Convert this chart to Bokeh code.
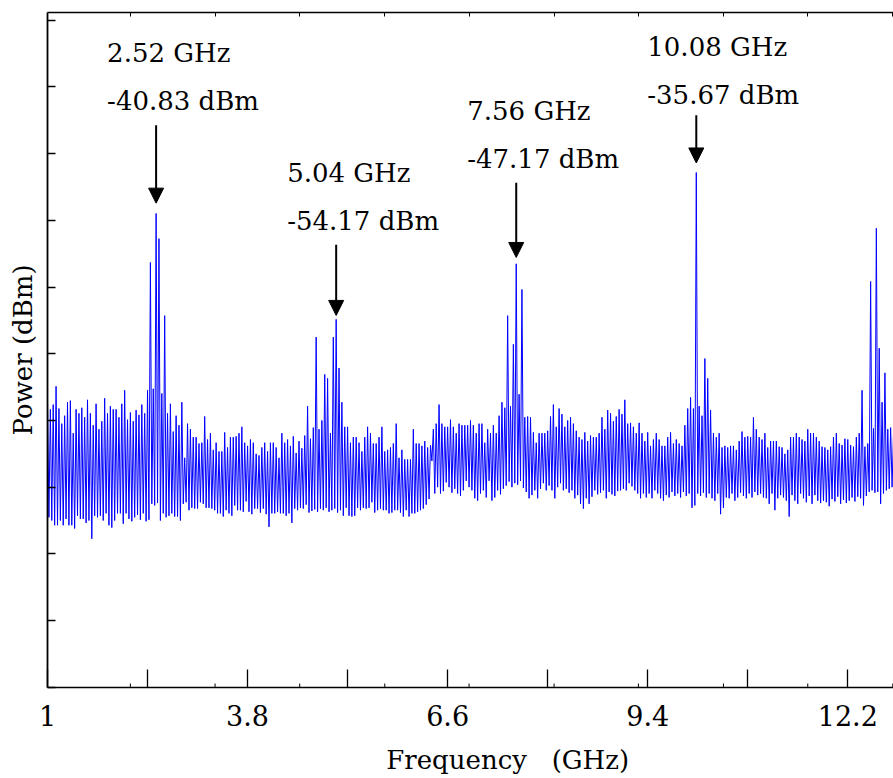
import numpy as np
from bokeh.plotting import figure
from bokeh.models import Range1d, FixedTicker, LinearAxis, Arrow, NormalHead, Label
from bokeh.embed import file_html
from bokeh.resources import INLINE

# Spectrum analyser trace: one reading every 20 MHz starting at 1.00 GHz
F_START_GHZ = 1.0
F_STEP_GHZ = 0.02

# 1.00 - 3.38 GHz
power_band1_dbm = [
    -64.4, -79.1, -65.5, -79.5, -64.9, -80.1, -62.6, -80.1, -65.4, -79.5, -67.3, -80.1, -66.3, -79.3, -64.6, -80.1, -64.4, -80.1, -68.5, -80.5,
    -65.5, -78.9, -66.0, -79.3, -65.3, -79.3, -66.5, -79.8, -64.3, -79.5, -66.0, -81.8, -67.5, -78.9, -64.8, -79.1, -68.0, -78.9, -67.0, -79.5,
    -64.1, -78.6, -66.0, -80.1, -65.1, -80.4, -65.5, -79.5, -65.5, -78.6, -66.5, -78.6, -64.8, -79.9, -63.1, -78.6, -66.8, -79.3, -65.9, -79.6,
    -67.0, -79.1, -65.6, -78.8, -66.2, -79.4, -64.9, -78.6, -66.0, -79.6, -63.1, -79.4, -47.0, -77.4, -62.9, -77.6, -40.83, -77.3, -44.0, -79.5,
    -63.5, -78.6, -53.7, -79.1, -66.0, -78.9, -64.8, -78.6, -68.3, -79.0, -66.3, -79.0, -67.5, -79.5, -64.6, -77.4, -71.6, -77.2, -67.3, -78.2,
    -68.0, -77.9, -69.0, -78.0, -69.0, -78.0, -69.8, -77.2, -69.7, -77.4, -66.4, -77.9, -69.3, -77.9, -68.5, -78.0, -70.6, -78.2, -69.7, -78.6,
]
# 3.40 - 5.78 GHz
power_band2_dbm = [
    -70.8, -78.6, -70.8, -79.0, -68.4, -78.2, -70.3, -78.6, -69.0, -78.9, -69.0, -77.6, -68.9, -78.2, -68.5, -78.2, -67.7, -78.4, -69.7, -77.1,
    -70.1, -78.4, -69.3, -78.7, -69.7, -78.0, -71.1, -78.0, -71.3, -78.5, -70.3, -78.0, -69.7, -78.7, -70.8, -80.3, -69.7, -78.6, -69.7, -78.6,
    -70.3, -78.4, -71.6, -78.6, -68.5, -78.6, -69.7, -78.9, -69.3, -78.6, -70.1, -79.8, -68.9, -78.0, -71.0, -78.2, -69.5, -77.9, -70.4, -78.0,
    -68.8, -77.5, -65.1, -78.5, -69.2, -78.3, -67.8, -78.1, -56.4, -78.4, -68.0, -78.0, -66.9, -78.2, -61.1, -77.9, -61.6, -78.4, -68.5, -78.2,
    -56.4, -78.0, -54.17, -78.5, -60.3, -78.2, -64.6, -78.9, -67.7, -77.9, -67.7, -78.9, -69.7, -79.0, -69.0, -78.9, -69.0, -77.9, -69.7, -78.2,
    -70.8, -77.9, -69.0, -78.0, -67.7, -77.9, -68.5, -77.2, -69.8, -78.5, -69.8, -78.2, -69.0, -78.0, -67.7, -78.2, -70.8, -78.2, -70.6, -78.6,
]
# 5.80 - 8.18 GHz
power_band3_dbm = [
    -70.3, -78.5, -69.8, -78.2, -67.3, -78.2, -71.6, -78.5, -70.6, -79.0, -71.8, -78.2, -71.8, -79.0, -71.8, -78.6, -68.0, -78.6, -69.8, -78.4,
    -69.8, -78.2, -70.1, -78.0, -69.5, -77.5, -70.3, -76.8, -70.0, -72.0, -68.0, -76.1, -67.3, -75.3, -64.9, -76.1, -67.3, -75.8, -67.7, -74.7,
    -67.7, -75.3, -66.8, -76.0, -67.7, -75.5, -68.5, -76.1, -67.3, -76.4, -67.5, -75.7, -67.5, -74.5, -67.5, -75.3, -66.9, -75.7, -67.5, -76.7,
    -68.5, -77.0, -67.3, -76.1, -67.3, -75.7, -69.7, -76.6, -68.0, -74.5, -68.5, -77.0, -67.5, -76.6, -68.5, -75.7, -66.3, -76.2, -64.6, -75.5,
    -65.3, -75.1, -53.7, -74.6, -65.1, -75.3, -57.3, -74.8, -47.17, -75.0, -63.6, -74.5, -50.4, -75.4, -66.5, -75.9, -66.4, -76.7, -66.5, -76.3,
    -68.4, -75.7, -69.7, -76.7, -68.5, -75.5, -68.5, -74.8, -68.5, -75.7, -68.2, -75.1, -66.4, -75.7, -64.9, -76.7, -67.7, -75.3, -65.4, -74.8,
]
# 8.20 - 10.58 GHz
power_band4_dbm = [
    -66.1, -75.7, -67.7, -75.5, -66.9, -76.0, -66.5, -75.7, -67.3, -76.7, -68.2, -76.3, -69.0, -77.4, -69.3, -78.0, -68.4, -76.7, -69.5, -77.4,
    -68.8, -76.5, -69.0, -75.7, -69.0, -76.2, -68.5, -76.0, -66.5, -75.7, -68.0, -76.7, -65.6, -75.9, -66.0, -76.2, -67.0, -76.4, -66.4, -75.8,
    -65.5, -75.7, -66.1, -75.5, -64.3, -75.7, -67.3, -74.8, -67.2, -75.2, -67.7, -75.7, -68.5, -76.1, -67.2, -76.7, -68.5, -76.1, -69.5, -76.6,
    -68.4, -76.1, -70.1, -76.7, -69.3, -75.7, -68.5, -76.1, -69.3, -76.7, -70.1, -77.0, -70.1, -76.3, -69.0, -76.6, -68.4, -75.9, -69.8, -76.4,
    -69.3, -76.1, -69.8, -76.6, -70.1, -75.9, -67.5, -76.4, -65.4, -76.1, -64.0, -77.9, -65.4, -77.6, -35.67, -76.1, -65.1, -76.4, -66.3, -76.0,
    -59.1, -76.6, -61.6, -76.1, -65.6, -76.7, -68.5, -77.0, -69.0, -76.1, -68.5, -78.7, -70.3, -77.9, -70.1, -76.6, -70.3, -76.7, -70.1, -76.1,
]
# 10.60 - 12.84 GHz
power_band5_dbm = [
    -70.1, -77.0, -70.6, -76.6, -69.5, -76.0, -68.3, -76.4, -69.0, -76.7, -68.9, -76.1, -69.0, -76.6, -66.5, -75.9, -68.0, -76.3, -69.0, -76.1,
    -69.3, -76.6, -68.5, -76.7, -70.3, -77.4, -69.5, -76.1, -69.5, -78.2, -69.5, -76.7, -70.2, -76.3, -70.3, -76.6, -71.1, -77.0, -70.6, -79.0,
    -69.0, -76.3, -69.0, -77.0, -68.5, -77.4, -69.0, -76.1, -69.3, -76.7, -69.5, -77.2, -68.0, -76.4, -68.5, -77.4, -68.5, -76.3, -69.0, -77.0,
    -69.5, -77.3, -70.2, -77.0, -70.3, -77.2, -70.6, -77.7, -70.2, -76.8, -69.0, -77.1, -68.5, -76.5, -69.8, -77.4, -70.0, -76.9, -69.2, -77.3,
    -69.3, -77.0, -70.0, -76.6, -70.2, -77.1, -69.0, -76.5, -68.5, -76.7, -63.1, -77.6, -70.2, -76.4, -69.8, -75.9, -49.4, -75.7, -67.9, -76.0,
    -42.7, -75.9, -57.8, -77.4, -64.6, -76.1, -60.9, -75.7, -68.0, -75.5, -67.8, -75.3, -68.5,
]

# Marked harmonics
marker_freq_ghz = [2.52, 5.04, 7.56, 10.08]

# Axis ticks
x_label_ticks = [1, 3.8, 6.6, 9.4, 12.2]
x_label_text = ["1", "3.8", "6.6", "9.4", "12.2"]
x_long_ticks = [2.4, 5.2, 8.0, 10.8]
x_small_ticks = [2.16, 3.345, 4.53, 5.72, 6.9, 8.09, 9.27, 10.46, 11.64, 12.83]
y_ticks = [-100.5, -92.1, -83.7, -75.3, -66.9, -58.5, -50.1, -41.7, -33.3, -24.9, -16.5]

power_dbm = np.array(power_band1_dbm + power_band2_dbm + power_band3_dbm
                     + power_band4_dbm + power_band5_dbm)
freq_ghz = F_START_GHZ + F_STEP_GHZ * np.arange(len(power_dbm))

Y_MIN, Y_MAX = -100.53, -15.52
NBSP = "\u00a0"
FONT = "DejaVu Serif"

p = figure(width=893, height=778,
           x_range=Range1d(1.0, 12.84), y_range=Range1d(Y_MIN, Y_MAX),
           output_backend="svg", toolbar_location=None,
           min_border_left=47, min_border_right=0, min_border_top=12, min_border_bottom=91,
           background_fill_color="white", border_fill_color="white",
           outline_line_color=None)
p.grid.visible = False

p.line(freq_ghz, power_dbm, line_color="#0000ff", line_width=1.0)

# short ticks along the bottom edge
p.segment(x0=x_small_ticks, y0=[Y_MIN] * len(x_small_ticks),
          x1=x_small_ticks, y1=[Y_MIN + 0.5] * len(x_small_ticks),
          line_color="black", line_width=1)

# bottom axis
xa = p.xaxis[0]
xa.ticker = FixedTicker(ticks=x_label_ticks, minor_ticks=x_long_ticks)
xa.major_label_overrides = {v: s for v, s in zip(x_label_ticks, x_label_text)}
xa.major_tick_in = 18
xa.major_tick_out = 0
xa.minor_tick_in = 18
xa.minor_tick_out = 0
xa.major_tick_line_width = 1.3
xa.minor_tick_line_width = 1.3
xa.axis_line_width = 1.5
xa.axis_line_color = "black"
xa.major_tick_line_color = "black"
xa.minor_tick_line_color = "black"
xa.major_label_text_font = FONT
xa.major_label_text_font_size = "27px"
xa.major_label_text_color = "black"
xa.major_label_standoff = 17
xa.axis_label = NBSP * 9 + "Frequency" + NBSP * 3 + "(GHz)"
xa.axis_label_text_font = FONT
xa.axis_label_text_font_size = "26px"
xa.axis_label_text_font_style = "normal"
xa.axis_label_text_color = "black"
xa.axis_label_standoff = 16

# top edge with small ticks
top = LinearAxis(ticker=FixedTicker(ticks=[], minor_ticks=x_small_ticks),
                 major_tick_in=0, major_tick_out=0, minor_tick_in=4, minor_tick_out=0,
                 major_label_standoff=0,
                 axis_line_width=1.5, axis_line_color="black",
                 minor_tick_line_color="black")
p.add_layout(top, "above")

# left axis: ticks only
ya = p.yaxis[0]
ya.ticker = FixedTicker(ticks=[], minor_ticks=y_ticks)
ya.major_label_standoff = 0
ya.major_tick_in = 0
ya.major_tick_out = 0
ya.minor_tick_in = 8
ya.minor_tick_out = 0
ya.minor_tick_line_width = 1.3
ya.minor_tick_line_color = "black"
ya.axis_line_width = 1.8
ya.axis_line_color = "black"
ya.axis_label = "Power (dBm)"
ya.axis_label_text_font = FONT
ya.axis_label_text_font_size = "26px"
ya.axis_label_text_font_style = "normal"
ya.axis_label_text_color = "black"
ya.axis_label_standoff = 10

# arrows and readouts for the marked harmonics
arrow_gap_db = [1.3, 0.5, 0.8, 1.2]
arrow_len_db = [9.8, 8.9, 9.4, 6.0]
text_lift_px = [72, 72, 72, 68]
for f, gap, length, lift in zip(marker_freq_ghz, arrow_gap_db, arrow_len_db, text_lift_px):
    i = int(round((f - F_START_GHZ) / F_STEP_GHZ))
    peak = float(power_dbm[i])
    tip = peak + gap
    tail = tip + length
    p.add_layout(Arrow(x_start=f, y_start=tail, x_end=f, y_end=tip,
                       line_color="black", line_width=2,
                       end=NormalHead(size=15, fill_color="black", line_color="black")))
    p.add_layout(Label(x=f, y=tail, x_offset=-49, y_offset=lift,
                       text=f"{freq_ghz[i]:.2f} GHz",
                       text_font=FONT, text_font_size="26px", text_color="black",
                       text_align="left", text_baseline="alphabetic"))
    p.add_layout(Label(x=f, y=tail, x_offset=-49, y_offset=lift - 48,
                       text=f"{peak:.2f} dBm",
                       text_font=FONT, text_font_size="26px", text_color="black",
                       text_align="left", text_baseline="alphabetic"))

open("out.html", "w").write(file_html(p, INLINE))
